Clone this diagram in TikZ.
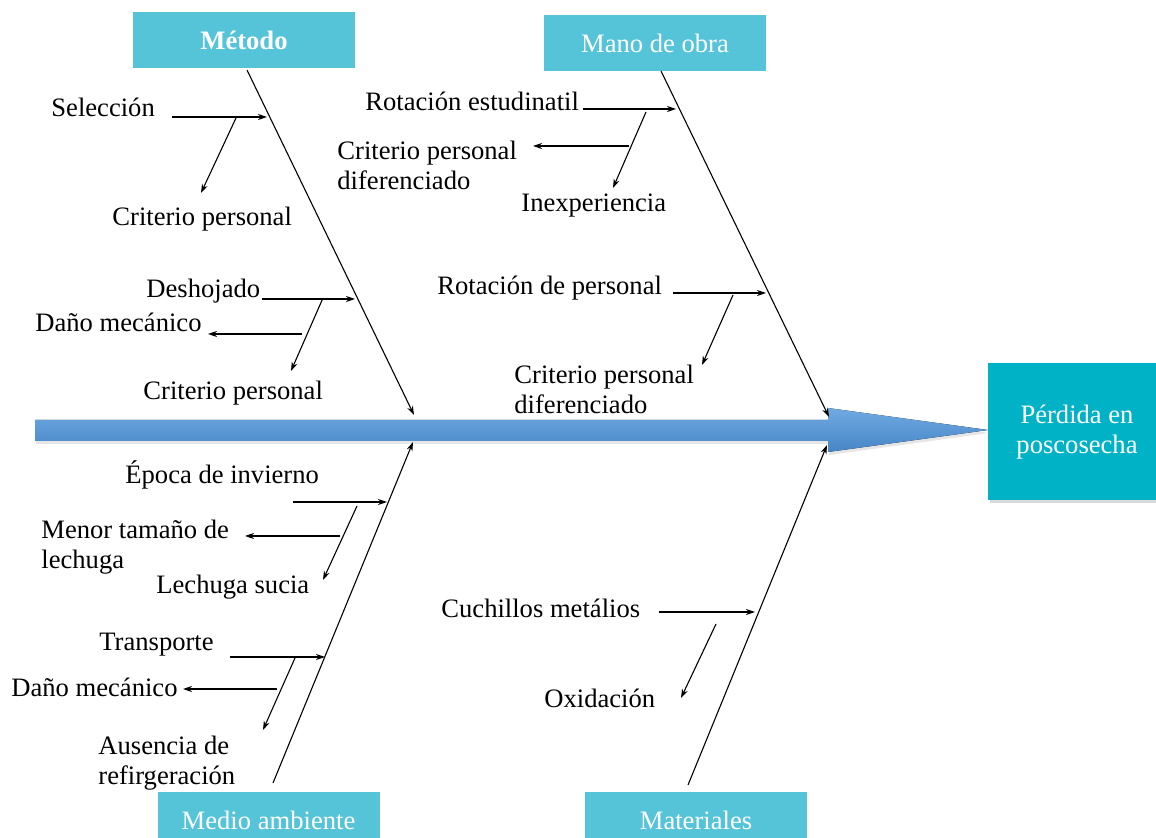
\documentclass[tikz,border=0pt]{standalone}
\usepackage{fontspec}
\setmainfont{Liberation Serif}
\usetikzlibrary{arrows.meta, shadows}
\definecolor{cajacausa}{RGB}{86,196,216}
\definecolor{cajaefecto}{RGB}{0,178,198}
\definecolor{espinaclara}{RGB}{112,170,226}
\definecolor{espinaoscura}{RGB}{70,133,199}

\tikzset{
	causa/.style={fill=cajacausa, text=white, inner sep=0pt,
		minimum width=111pt, minimum height=28pt},
	efecto/.style={fill=cajaefecto, text=white, inner sep=0pt, align=center,
		minimum width=89pt, minimum height=68.5pt,
		drop shadow={shadow xshift=1pt, shadow yshift=-1.5pt, opacity=0.3}},
	hueso/.style={line width=0.55pt, -{Stealth[length=4.5pt, width=3pt]}},
	rama/.style={line width=0.55pt, -{Stealth[length=4.5pt, width=3pt]}},
	etiq/.style={inner sep=0pt, anchor=base west},
	etiqdos/.style={inner sep=0pt, anchor=north west, align=left}
}

\begin{document}
\begin{tikzpicture}[x=0.5pt, y=-0.5pt, font=\fontsize{13.3}{14.8}\selectfont]
	\useasboundingbox (0,0) rectangle (1156,838);

	% espina central
	\fill[top color=espinaclara, bottom color=espinaoscura,
		drop shadow={shadow xshift=0.5pt, shadow yshift=-1.5pt, opacity=0.2}]
		(35,420) -- (828,420) -- (828,408) -- (988,430) -- (828,452)
		-- (828,441) -- (35,441) -- cycle;

	% cajas
	\node[causa, font=\fontsize{13.3}{14.8}\selectfont\bfseries] (metodo) at (244,40.5) {Método};
	\node[causa] (manoobra) at (655,43.5) {Mano de obra};
	\node[causa] (medioamb) at (268.5,820) {Medio ambiente};
	\node[causa] (materiales) at (696,820) {Materiales};
	\node[efecto] (perdida) at (1077,432) {Pérdida en\\poscosecha};

	% huesos principales
	\coordinate (m0) at (247,70);   \coordinate (m1) at (414,415);
	\coordinate (o0) at (661,71);   \coordinate (o1) at (829,417);
	\coordinate (a0) at (273,783);  \coordinate (a1) at (413,442);
	\coordinate (t0) at (688,785);  \coordinate (t1) at (827,445);
	\draw[hueso] (m0) -- (m1);
	\draw[hueso] (o0) -- (o1);
	\draw[hueso] (a0) -- (a1);
	\draw[hueso] (t0) -- (t1);

	% Metodo
	\node[etiq] (seleccion) at (51,117) {Selección};
	\node[etiq] (critA) at (112,226) {Criterio personal};
	\node[etiq] (deshojado) at (146,298) {Deshojado};
	\node[etiq] (danoA) at (35,332) {Daño mecánico};
	\node[etiq] (critB) at (143,400) {Criterio personal};
	\coordinate (s0) at (172,117);  \coordinate (s1) at (267,117);
	\coordinate (s2) at (236,118);  \coordinate (s3) at (201,193);
	\coordinate (d0) at (262,299);  \coordinate (d1) at (355,299);
	\coordinate (d2) at (302,334);  \coordinate (d3) at (208,334);
	\coordinate (d4) at (323,298);  \coordinate (d5) at (291,371);
	\draw[rama] (s0) -- (s1);
	\draw[rama] (s2) -- (s3);
	\draw[rama] (d0) -- (d1);
	\draw[rama] (d2) -- (d3);
	\draw[rama] (d4) -- (d5);

	% Mano de obra
	\node[etiq] (rotest) at (365,111) {Rotación estudinatil};
	\node[etiqdos] (critdifA) at (337,141) {Criterio personal\\diferenciado};
	\node[etiq] (inexp) at (521,212) {Inexperiencia};
	\node[etiq] (rotpers) at (437,295) {Rotación de personal};
	\node[etiqdos] (critdifB) at (514,365) {Criterio personal\\diferenciado};
	\coordinate (r0) at (583,109);  \coordinate (r1) at (676,109);
	\coordinate (r2) at (646,112);  \coordinate (r3) at (613,188);
	\coordinate (r4) at (629,146);  \coordinate (r5) at (533,146);
	\coordinate (p0) at (673,293);  \coordinate (p1) at (766,293);
	\coordinate (p2) at (733,295);  \coordinate (p3) at (702,365);
	\draw[rama] (r0) -- (r1);
	\draw[rama] (r2) -- (r3);
	\draw[rama] (r4) -- (r5);
	\draw[rama] (p0) -- (p1);
	\draw[rama] (p2) -- (p3);

	% Medio ambiente
	\node[etiq] (epoca) at (125,484) {Época de invierno};
	\node[etiqdos] (menor) at (41,520) {Menor tamaño de\\lechuga};
	\node[etiq] (sucia) at (156,594) {Lechuga sucia};
	\node[etiq] (transp) at (99,651) {Transporte};
	\node[etiq] (danoB) at (11,697) {Daño mecánico};
	\node[etiqdos] (ausencia) at (98,736) {Ausencia de\\refirgeración};
	\coordinate (e0) at (293,502);  \coordinate (e1) at (387,502);
	\coordinate (e2) at (340,536);  \coordinate (e3) at (245,536);
	\coordinate (e4) at (357,506);  \coordinate (e5) at (323,580);
	\coordinate (n0) at (230,657);  \coordinate (n1) at (325,657);
	\coordinate (n2) at (277,689);  \coordinate (n3) at (183,689);
	\coordinate (n4) at (295,658);  \coordinate (n5) at (263,730);
	\draw[rama] (e0) -- (e1);
	\draw[rama] (e2) -- (e3);
	\draw[rama] (e4) -- (e5);
	\draw[rama] (n0) -- (n1);
	\draw[rama] (n2) -- (n3);
	\draw[rama] (n4) -- (n5);

	% Materiales
	\node[etiq] (cuchillos) at (441,618) {Cuchillos metálios};
	\node[etiq] (oxidacion) at (544,707) {Oxidación};
	\coordinate (c0) at (659,612);  \coordinate (c1) at (755,612);
	\coordinate (c2) at (716,624);  \coordinate (c3) at (681,698);
	\draw[rama] (c0) -- (c1);
	\draw[rama] (c2) -- (c3);
\end{tikzpicture}
\end{document}
